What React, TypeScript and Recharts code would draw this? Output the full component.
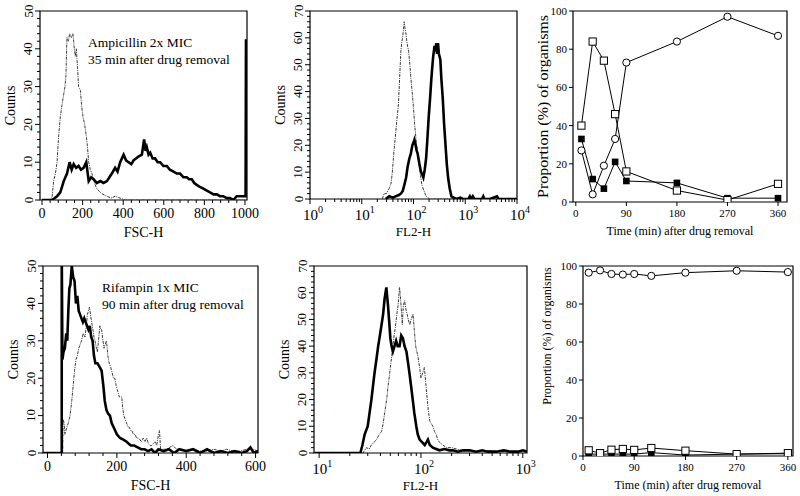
import React from 'react';
import { LineChart, Line, XAxis, YAxis, ReferenceArea } from 'recharts';

const SERIF = "'Liberation Serif', 'Times New Roman', serif";

type Pt = [number, number];

// top-left: ampicillin 2x MIC, FSC-H (thick = treated, dotted = control)
const ampFscTreated: Pt[] = [
  [0, 0], [50, 0], [74, 1], [90, 2], [107, 5], [123, 7], [136, 10], [146, 8], [156, 9.5], [168, 8.5],
  [180, 9], [192, 8], [205, 8.5], [218, 10], [230, 5], [242, 6], [254, 5.5], [270, 4.5], [287, 5], [303, 4.5],
  [320, 5], [332, 6], [344, 7], [360, 8.5], [372, 7.5], [385, 10], [402, 12], [414, 10.5], [426, 10], [440, 9.5],
  [451, 10.5], [463, 11], [475, 11.5], [492, 12], [503, 16], [510, 13], [516, 14], [525, 12], [533, 12.5], [545, 11],
  [557, 11], [570, 10], [582, 10], [598, 9], [615, 9], [630, 8], [648, 7.5], [664, 7], [680, 7], [697, 6],
  [713, 6], [725, 5.5], [738, 5.5], [750, 4.5], [762, 4], [778, 3.5], [795, 3], [812, 2.5], [828, 2], [845, 1.5],
  [861, 1.5], [877, 1], [893, 1], [910, 0.5], [926, 0.5], [943, 0], [959, 1], [980, 1], [1003, 1], [1005, 42.5], [1007, 22],
];
const ampFscControl: Pt[] = [
  [0, 0], [41, 0], [50, 1], [57, 5], [66, 7], [74, 10], [82, 17], [90, 22], [98, 25], [107, 28],
  [113, 30], [118, 33], [121, 40], [123, 43], [130, 42], [136, 44], [145, 43], [152, 44], [156, 42], [159, 40],
  [164, 38], [169, 40], [175, 35], [180, 30], [185, 29.5], [189, 29], [195, 25], [202, 22], [210, 20], [218, 17],
  [224, 14], [230, 10], [238, 8], [246, 7], [255, 5], [262, 4], [270, 3], [287, 2], [300, 1.5], [320, 1],
  [340, 0.5], [360, 1], [385, 0.5], [410, 0], [1000, 0],
];

// top-middle: ampicillin, FL2-H (log)
const ampFl2Treated: Pt[] = [
  [29, 0], [34, 1], [40, 0.5], [45, 1], [52, 1.5], [57, 2], [62, 3], [66, 5], [72, 8], [77, 12],
  [83, 15], [89, 17], [95, 20], [100, 21], [104, 22], [110, 20], [115, 18], [120, 17], [130, 13], [140, 10],
  [148, 9], [155, 8], [165, 11], [175, 15], [185, 22], [196, 30], [210, 38], [220, 44], [228, 48], [240, 53],
  [255, 57], [265, 55], [275, 58], [285, 54], [297, 58], [310, 54], [330, 52], [345, 45], [369, 37], [390, 28],
  [416, 20], [440, 13], [466, 8], [500, 4], [540, 1], [600, 0.5], [673, 0], [800, 0.5], [900, 0], [1150, 0],
  [1230, 1], [1300, 0], [1400, 1], [1500, 0], [2100, 0], [2230, 1], [2350, 0], [3000, 0], [4100, 1], [4400, 0], [10000, 0],
];
const ampFl2Control: Pt[] = [
  [25, 0], [27, 2], [30, 2], [34, 4], [37, 6], [39, 10], [42, 18], [45.5, 25], [48, 30], [51, 35],
  [54, 45], [57, 55], [59, 58], [61.5, 60], [64, 63], [66, 66], [68, 64], [71, 62], [75, 58], [80.5, 55],
  [85, 50], [89, 45], [94, 40], [99, 35], [105, 28], [112, 22], [120, 17], [130, 12], [138, 8], [146, 5],
  [160, 3], [175, 1], [204, 0], [10000, 0],
];

// top-right: ampicillin time course
const ampTime = [10, 30, 50, 70, 90, 180, 270, 360];
const ampOpenCircles = [27, 4, 19, 33, 73, 84, 97, 87];
const ampOpenSquares = [40, 84, 74, 46, 16, 6, 1, 9.5];
const ampFilledSquares = [33, 12, 7, 21, 11, 10, 2, 2];

// bottom-left: rifampin 1x MIC, FSC-H
const rifFscTreated: Pt[] = [
  [-13, 0], [41, 0], [41, 55], [43, 25], [46, 27], [50, 28], [54, 32], [57, 30], [60, 38], [63, 44],
  [66, 45], [70, 50], [74, 47], [78, 46], [82, 40], [86, 42], [90, 38], [94, 37], [98, 36], [102, 35],
  [106, 36], [110, 35], [114, 34], [118, 33], [122, 34], [126, 31], [130, 30], [134, 26], [138, 24], [144, 24],
  [150, 23], [156, 22], [161, 18], [165, 14], [170, 11.5], [175, 10.5], [180, 10], [185, 8], [190, 7], [200, 5],
  [209, 4], [220, 3.5], [228, 3], [240, 2], [250, 2], [260, 1.5], [270, 1], [280, 1], [290, 0.5], [300, 1],
  [310, 0], [320, 1], [335, 0.5], [350, 1], [365, 0], [380, 1], [400, 0.5], [420, 1], [440, 0], [460, 1],
  [480, 0], [500, 0.5], [520, 0], [540, 0.5], [560, 0], [575, 0.5], [585, 1.5], [595, 0], [607, 0.5],
];
const rifFscControl: Pt[] = [
  [-13, 0], [44, 0], [45, 9], [48, 8], [50, 5], [53, 6], [56, 7], [60, 8], [65, 10], [70, 14],
  [74, 18], [78, 22], [82, 25], [86, 26], [90, 28], [94, 29], [98, 30], [103, 32], [108, 31], [112, 34],
  [115, 37], [118, 38], [121, 39], [124, 37], [127, 35], [131, 33], [134, 31], [137, 30], [141, 28], [144, 27],
  [148, 31], [151, 34], [154, 33], [156, 33], [160, 30], [163, 28], [166, 29], [170, 30], [174, 26], [178, 24],
  [182, 23], [185, 22], [190, 20], [194, 20], [198, 18], [201, 17], [204, 16], [207, 15], [211, 15], [214, 15],
  [217, 12], [220, 10], [224, 9], [228, 8], [232, 7], [235, 7], [240, 6], [243, 6], [248, 5], [252, 5],
  [257, 4], [262, 4], [267, 3.5], [271, 3], [276, 4], [281, 3], [286, 4], [291, 2.5], [296, 2], [300, 2],
  [305, 2.5], [310, 3], [315, 2], [320, 5], [323, 6], [326, 1], [335, 1], [343, 1], [352, 1.5], [362, 2],
  [372, 1], [382, 1], [400, 0.5], [420, 1], [440, 0.5], [458, 0.5], [480, 1], [500, 0.5], [516, 1], [535, 0.5],
  [554, 0.5], [575, 1], [593, 1], [607, 0.5],
];

// bottom-middle: rifampin, FL2-H (log)
const rifFl2Treated: Pt[] = [
  [9, 0], [25.4, 0], [26.6, 3], [28, 7], [30, 10], [31, 14], [32.6, 20], [34, 26], [35, 30], [36.5, 35],
  [38, 40], [39.5, 44], [41, 48], [42.5, 52], [44, 58], [45.7, 62], [47.5, 55], [49, 48], [50, 43], [51.5, 40],
  [53, 38], [55, 40], [57, 42], [59, 40], [61.6, 40], [64, 44], [66.5, 43], [69, 40], [72, 38], [74.5, 34],
  [77, 30], [80, 25], [83, 20], [86, 15], [90, 10], [93, 7], [97, 5], [103, 4], [109, 3], [113, 4],
  [117, 5], [122, 3], [131, 2], [141, 1.5], [152, 1], [170, 1.5], [190, 1], [206, 1], [230, 0.5], [260, 1],
  [300, 1], [350, 0.5], [400, 1], [450, 0.5], [550, 0.5], [650, 1], [750, 0.5], [900, 0.5], [1000, 1], [1100, 0.5],
];
const rifFl2Control: Pt[] = [
  [9, 0], [27, 0], [29, 2], [31, 1.5], [32.6, 3], [34.5, 4], [36.5, 5], [39, 7], [41, 8], [42.5, 11],
  [44, 15], [46, 20], [47.5, 25], [49, 29], [50, 32], [51.5, 36], [53, 40], [54.5, 44], [56, 47], [58, 52],
  [59.5, 55], [61.6, 62], [63, 58], [65.6, 48], [67, 55], [69, 57], [71, 54], [73, 52], [75, 50], [77.5, 48],
  [80, 50], [83.6, 52], [86, 46], [88.7, 40], [91, 38], [93.5, 36], [97, 32], [100, 28], [104, 30], [108, 32],
  [111, 27], [114, 22], [118, 16], [122, 12], [126, 11], [131, 10], [136, 8], [141, 7], [146, 5], [152, 4],
  [164, 3], [177, 2], [200, 2], [223, 1.5], [250, 1], [300, 1], [350, 0.5], [450, 1], [550, 0.5], [634, 0.5],
  [800, 0.5], [1000, 0.5], [1100, 0.5],
];

// bottom-right: rifampin time course
const rifTime = [10, 30, 50, 70, 90, 120, 180, 270, 360];
const rifOpenCircles = [96.5, 97.7, 95.8, 95.5, 95.8, 94.8, 96.5, 97.5, 96.8];
const rifOpenSquares = [3, 1.5, 3.3, 3.7, 3.2, 4.2, 2.8, 1, 1.5];
const rifFilledSquares = [1, 1, 1, 1, 1, 1.8, 0.5, 1, 1.2];

// tick lists
const fscAmpMajors = [0, 200, 400, 600, 800, 1000];
const fscAmpTicks = Array.from({ length: 26 }, (_, i) => i * 40);
const fscRifMajors = [0, 200, 400, 600];
const fscRifTicks = Array.from({ length: 16 }, (_, i) => i * 40);
const decadesAmp = [1, 10, 100, 1000, 10000];
const decadesRif = [10, 100, 1000];
const logMinors = (decs: number[]) =>
  decs.slice(0, -1).flatMap((d) => [2, 3, 4, 5, 6, 7, 8, 9].map((k) => k * d));
const counts50 = Array.from({ length: 26 }, (_, i) => i * 2);
const counts70 = Array.from({ length: 36 }, (_, i) => i * 2);
const major50 = [0, 10, 20, 30, 40, 50];
const major70 = [0, 10, 20, 30, 40, 50, 60, 70];
const timeTicks = [0, 90, 180, 270, 360];
const pctTicks = [0, 20, 40, 60, 80, 100];

const toRows = (pts: Pt[]) => pts.map(([x, y]) => ({ x, y }));
const zipRows = (xs: number[], ys: number[]) => xs.map((x, i) => ({ x, y: ys[i] }));

interface Frame {
  left: number; top: number; yw: number; mt: number; pw: number; ph: number; mr: number; xh: number;
}

const XTick = (p: any) => {
  const { x, y, payload, majors, fs, log, len = 5 } = p;
  const v = payload.value;
  const major = majors.includes(v);
  return (
    <g>
      <line x1={x} y1={y} x2={x} y2={y + (major ? len : 3)} stroke="#000" strokeWidth={1} />
      {major && !log && (
        <text x={x} y={y + fs + 4} textAnchor="middle" fontSize={fs} fontFamily={SERIF} fill="#000">
          {v}
        </text>
      )}
      {major && log && (
        <text x={x + 3} y={y + 21} textAnchor="middle" fontSize={fs} fontFamily={SERIF} fill="#000">
          10
          <tspan dy={-7} fontSize={10}>{Math.round(Math.log10(v))}</tspan>
        </text>
      )}
    </g>
  );
};

const YTickRot = (p: any) => {
  const { x, y, payload, majors } = p;
  const v = payload.value;
  const major = majors.includes(v);
  const tx = x - 12;
  return (
    <g>
      <line x1={x} y1={y} x2={x - (major ? 5 : 3)} y2={y} stroke="#000" strokeWidth={1} />
      {major && (
        <text x={tx} y={y} transform={`rotate(-90 ${tx} ${y})`} textAnchor="middle" dominantBaseline="central"
          fontSize={13} fontFamily={SERIF} fill="#000">
          {v}
        </text>
      )}
    </g>
  );
};

const YTickFlat = (p: any) => {
  const { x, y, payload } = p;
  return (
    <g>
      <line x1={x} y1={y} x2={x - 4} y2={y} stroke="#000" strokeWidth={1} />
      <text x={x - 6} y={y} textAnchor="end" dominantBaseline="central" fontSize={11} fontFamily={SERIF} fill="#000">
        {payload.value}
      </text>
    </g>
  );
};

const xTitle = (text: string, fs: number, dy: number) => ({
  content: (lp: any) => {
    const vb = lp.viewBox;
    return (
      <text x={vb.x + vb.width / 2} y={vb.y + dy} textAnchor="middle" fontSize={fs} fontFamily={SERIF} fill="#000">
        {text}
      </text>
    );
  },
});

const yTitle = (text: string, fs: number, gap: number, shift = 0, len?: number) => ({
  content: (lp: any) => {
    const vb = lp.viewBox;
    const cx = vb.x + vb.width - gap;
    const cy = vb.y + vb.height / 2 + shift;
    return (
      <text x={cx} y={cy} transform={`rotate(-90 ${cx} ${cy})`} textAnchor="middle" dominantBaseline="central"
        fontSize={fs} fontFamily={SERIF} fill="#000" textLength={len} lengthAdjust={len ? 'spacingAndGlyphs' : undefined}>
        {text}
      </text>
    );
  },
});

interface HistProps {
  f: Frame;
  xDomain: [number, number];
  log?: boolean;
  xTicks: number[];
  xMajors: number[];
  yMax: number;
  yTicks: number[];
  yMajors: number[];
  title: string;
  titleSize: number;
  solid: Pt[];
  dotted: Pt[];
}

const Histogram: React.FC<HistProps> = ({ f, xDomain, log, xTicks, xMajors, yMax, yTicks, yMajors, title, titleSize, solid, dotted }) => (
  <div style={{ position: 'absolute', left: f.left, top: f.top }}>
    <LineChart width={f.yw + f.pw + f.mr} height={f.mt + f.ph + f.xh} margin={{ top: f.mt, right: f.mr, bottom: 0, left: 0 }}>
      <XAxis
        type="number"
        dataKey="x"
        scale={log ? 'log' : 'auto'}
        domain={xDomain}
        allowDataOverflow
        ticks={xTicks}
        interval={0}
        tickSize={0}
        tickMargin={0}
        axisLine={false}
        tickLine={false}
        height={f.xh}
        tick={(p: any) => <XTick {...p} majors={xMajors} fs={log ? 15 : 14} log={log} />}
        label={xTitle(title, titleSize, 37)}
      />
      <YAxis
        type="number"
        domain={[0, yMax]}
        allowDataOverflow
        ticks={yTicks}
        interval={0}
        tickSize={0}
        tickMargin={0}
        axisLine={false}
        tickLine={false}
        width={f.yw}
        tick={(p: any) => <YTickRot {...p} majors={yMajors} />}
        label={yTitle('Counts', 14, 30)}
      />
      <ReferenceArea x1={xDomain[0]} x2={xDomain[1]} y1={0} y2={yMax} fill="none" stroke="#000" strokeWidth={1.2} />
      <Line data={toRows(dotted)} dataKey="y" type="linear" stroke="#3a3a3a" strokeWidth={1}
        strokeDasharray="3 1 1 1" dot={false} activeDot={false} isAnimationActive={false} />
      <Line data={toRows(solid)} dataKey="y" type="linear" stroke="#000" strokeWidth={2.6}
        dot={false} activeDot={false} isAnimationActive={false} />
    </LineChart>
  </div>
);

const OpenCircle = (p: any) =>
  p.cx == null ? null : <circle key={p.index} cx={p.cx} cy={p.cy} r={3.6} fill="#fff" stroke="#000" strokeWidth={1} />;
const OpenSquare = (p: any) =>
  p.cx == null ? null : (
    <rect key={p.index} x={p.cx - 3.6} y={p.cy - 3.6} width={7.2} height={7.2} fill="#fff" stroke="#000" strokeWidth={1} />
  );
const FilledSquare = (p: any) =>
  p.cx == null ? null : <rect key={p.index} x={p.cx - 3.3} y={p.cy - 3.3} width={6.6} height={6.6} fill="#000" />;

interface CourseProps {
  f: Frame;
  xDomain: [number, number];
  time: number[];
  circles: number[];
  open: number[];
  filled: number[];
  titleShift: number;
  titleGap: number;
  titleSize: number;
  titleLen?: number;
}

const TimeCourse: React.FC<CourseProps> = ({ f, xDomain, time, circles, open, filled, titleShift, titleGap, titleSize, titleLen }) => (
  <div style={{ position: 'absolute', left: f.left, top: f.top }}>
    <LineChart width={f.yw + f.pw + f.mr} height={f.mt + f.ph + f.xh} margin={{ top: f.mt, right: f.mr, bottom: 0, left: 0 }}>
      <XAxis
        type="number"
        dataKey="x"
        domain={xDomain}
        allowDataOverflow
        ticks={timeTicks}
        interval={0}
        tickSize={0}
        tickMargin={0}
        axisLine={false}
        tickLine={false}
        height={f.xh}
        tick={(p: any) => <XTick {...p} majors={timeTicks} fs={11} len={4} />}
        label={xTitle('Time (min) after drug removal', 12, 33)}
      />
      <YAxis
        type="number"
        domain={[0, 100]}
        allowDataOverflow
        ticks={pctTicks}
        interval={0}
        tickSize={0}
        tickMargin={0}
        axisLine={false}
        tickLine={false}
        width={f.yw}
        tick={(p: any) => <YTickFlat {...p} />}
        label={yTitle('Proportion (%) of organisms', titleSize, titleGap, titleShift, titleLen)}
      />
      <ReferenceArea x1={xDomain[0]} x2={xDomain[1]} y1={0} y2={100} fill="none" stroke="#000" strokeWidth={1.2} />
      <Line data={zipRows(time, filled)} dataKey="y" type="linear" stroke="#000" strokeWidth={1}
        dot={FilledSquare} activeDot={false} isAnimationActive={false} />
      <Line data={zipRows(time, open)} dataKey="y" type="linear" stroke="#000" strokeWidth={1}
        dot={OpenSquare} activeDot={false} isAnimationActive={false} />
      <Line data={zipRows(time, circles)} dataKey="y" type="linear" stroke="#000" strokeWidth={1}
        dot={OpenCircle} activeDot={false} isAnimationActive={false} />
    </LineChart>
  </div>
);

const noteStyle: React.CSSProperties = {
  position: 'absolute',
  fontSize: 13.5,
  lineHeight: '16.5px',
  color: '#000',
  whiteSpace: 'nowrap',
};

export default function App() {
  return (
    <div style={{ position: 'absolute', left: 0, top: 0, width: 800, height: 496, background: '#fff', fontFamily: SERIF, overflow: 'hidden' }}>
      <Histogram
        f={{ left: 0, top: 0, yw: 40, mt: 11, pw: 207, ph: 189, mr: 18, xh: 45 }}
        xDomain={[-10, 1010]}
        xTicks={fscAmpTicks}
        xMajors={fscAmpMajors}
        yMax={50}
        yTicks={counts50}
        yMajors={major50}
        title="FSC-H"
        titleSize={14}
        solid={ampFscTreated}
        dotted={ampFscControl}
      />
      <Histogram
        f={{ left: 270, top: 0, yw: 40, mt: 11, pw: 207, ph: 188, mr: 18, xh: 46 }}
        xDomain={[1, 10000]}
        log
        xTicks={[...decadesAmp, ...logMinors(decadesAmp)]}
        xMajors={decadesAmp}
        yMax={70}
        yTicks={counts70}
        yMajors={major70}
        title="FL2-H"
        titleSize={13}
        solid={ampFl2Treated}
        dotted={ampFl2Control}
      />
      <TimeCourse
        f={{ left: 530, top: 0, yw: 43, mt: 11, pw: 214, ph: 191, mr: 10, xh: 44 }}
        xDomain={[-5, 376]}
        time={ampTime}
        circles={ampOpenCircles}
        open={ampOpenSquares}
        filled={ampFilledSquares}
        titleShift={0}
        titleGap={30}
        titleSize={14}
        titleLen={183}
      />
      <Histogram
        f={{ left: 0, top: 250, yw: 43, mt: 16, pw: 215, ph: 187, mr: 12, xh: 43 }}
        xDomain={[-13, 607]}
        xTicks={fscRifTicks}
        xMajors={fscRifMajors}
        yMax={50}
        yTicks={counts50}
        yMajors={major50}
        title="FSC-H"
        titleSize={14}
        solid={rifFscTreated}
        dotted={rifFscControl}
      />
      <Histogram
        f={{ left: 270, top: 250, yw: 44, mt: 16, pw: 213, ph: 187, mr: 14, xh: 43 }}
        xDomain={[8.9, 1100]}
        log
        xTicks={[...decadesRif, ...logMinors(decadesRif)]}
        xMajors={decadesRif}
        yMax={70}
        yTicks={counts70}
        yMajors={major70}
        title="FL2-H"
        titleSize={13}
        solid={rifFl2Treated}
        dotted={rifFl2Control}
      />
      <TimeCourse
        f={{ left: 530, top: 250, yw: 53, mt: 16, pw: 210, ph: 190, mr: 5, xh: 40 }}
        xDomain={[0, 369]}
        time={rifTime}
        circles={rifOpenCircles}
        open={rifOpenSquares}
        filled={rifFilledSquares}
        titleShift={-25}
        titleGap={36}
        titleSize={12}
      />
      <div style={{ ...noteStyle, left: 88, top: 35 }}>
        Ampicillin 2x MIC
        <br />
        35 min after drug removal
      </div>
      <div style={{ ...noteStyle, left: 102, top: 280 }}>
        Rifampin 1x MIC
        <br />
        90 min after drug removal
      </div>
    </div>
  );
}
